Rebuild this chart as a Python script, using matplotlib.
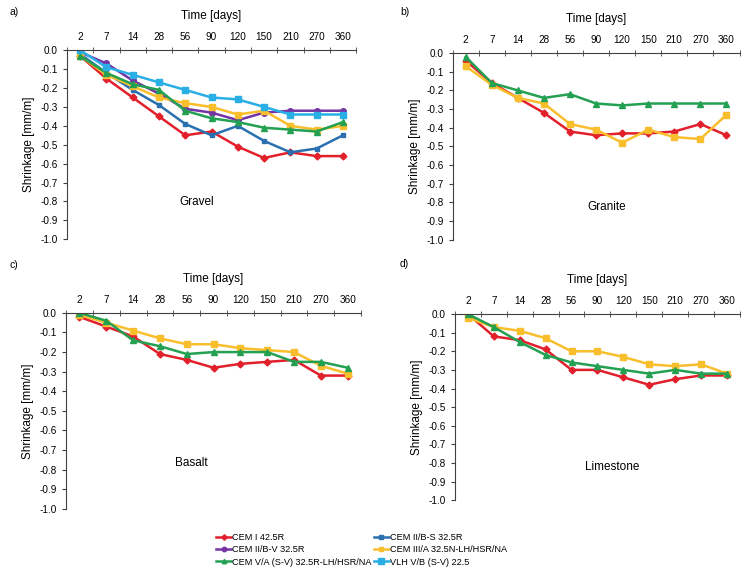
import matplotlib.pyplot as plt
import numpy as np
from matplotlib.ticker import FixedLocator

plt.rcParams['font.family'] = ['Liberation Sans', 'DejaVu Sans']

days = ['2', '7', '14', '28', '56', '90', '120', '150', '210', '270', '360']
yticks = [0.0, -0.1, -0.2, -0.3, -0.4, -0.5, -0.6, -0.7, -0.8, -0.9, -1.0]

# Gravel
gravel_cem1 = [-0.03, -0.15, -0.25, -0.35, -0.45, -0.43, -0.51, -0.57, -0.54, -0.56, -0.56]
gravel_cem2s = [-0.02, -0.12, -0.21, -0.29, -0.39, -0.45, -0.40, -0.48, -0.54, -0.52, -0.45]
gravel_cem2v = [-0.01, -0.07, -0.16, -0.23, -0.31, -0.33, -0.37, -0.33, -0.32, -0.32, -0.32]
gravel_cem3 = [-0.03, -0.13, -0.19, -0.25, -0.28, -0.30, -0.34, -0.32, -0.40, -0.42, -0.40]
gravel_cem5 = [-0.03, -0.12, -0.18, -0.21, -0.32, -0.36, -0.38, -0.41, -0.42, -0.43, -0.38]
gravel_vlh = [0.00, -0.09, -0.13, -0.17, -0.21, -0.25, -0.26, -0.30, -0.34, -0.34, -0.34]

# Granite
granite_cem1 = [-0.04, -0.16, -0.24, -0.32, -0.42, -0.44, -0.43, -0.43, -0.42, -0.38, -0.44]
granite_cem3 = [-0.07, -0.17, -0.24, -0.27, -0.38, -0.41, -0.48, -0.41, -0.45, -0.46, -0.33]
granite_cem5 = [-0.02, -0.16, -0.20, -0.24, -0.22, -0.27, -0.28, -0.27, -0.27, -0.27, -0.27]

# Basalt
basalt_cem1 = [-0.02, -0.07, -0.12, -0.21, -0.24, -0.28, -0.26, -0.25, -0.24, -0.32, -0.32]
basalt_cem3 = [-0.01, -0.05, -0.09, -0.13, -0.16, -0.16, -0.18, -0.19, -0.20, -0.27, -0.31]
basalt_cem5 = [0.00, -0.04, -0.14, -0.17, -0.21, -0.20, -0.20, -0.20, -0.25, -0.25, -0.28]

# Limestone
lime_cem1 = [0.00, -0.12, -0.14, -0.19, -0.30, -0.30, -0.34, -0.38, -0.35, -0.33, -0.33]
lime_cem3 = [-0.02, -0.07, -0.09, -0.13, -0.20, -0.20, -0.23, -0.27, -0.28, -0.27, -0.32]
lime_cem5 = [0.00, -0.07, -0.15, -0.22, -0.26, -0.28, -0.30, -0.32, -0.30, -0.32, -0.32]

names = {
    'cem1': 'CEM I 42.5R',
    'cem2s': 'CEM II/B-S 32.5R',
    'cem2v': 'CEM II/B-V 32.5R',
    'cem3': 'CEM III/A 32.5N-LH/HSR/NA',
    'cem5': 'CEM V/A (S-V) 32.5R-LH/HSR/NA',
    'vlh': 'VLH V/B (S-V) 22.5',
}
color = {
    'cem1': '#E2202B',
    'cem2s': '#2A70B0',
    'cem2v': '#7434A4',
    'cem3': '#F8BE2C',
    'cem5': '#23A052',
    'vlh': '#2AAEE6',
}
marker = {'cem1': 'D', 'cem2s': 's', 'cem2v': 'o', 'cem3': 's', 'cem5': '^', 'vlh': 's'}
msize = {'cem1': 3.5, 'cem2s': 3.5, 'cem2v': 4, 'cem3': 4, 'cem5': 4, 'vlh': 5}

panels = [
    ('a)', 'Gravel', [0.0897, 0.581, 0.387, 0.331], (0.39, 0.18),
     [('cem1', gravel_cem1), ('cem2s', gravel_cem2s), ('cem2v', gravel_cem2v),
      ('cem3', gravel_cem3), ('cem5', gravel_cem5), ('vlh', gravel_vlh)]),
    ('b)', 'Granite', [0.606, 0.580, 0.384, 0.327], (0.47, 0.16),
     [('cem1', granite_cem1), ('cem3', granite_cem3), ('cem5', granite_cem5)]),
    ('c)', 'Basalt', [0.0884, 0.109, 0.395, 0.343], (0.37, 0.22),
     [('cem1', basalt_cem1), ('cem3', basalt_cem3), ('cem5', basalt_cem5)]),
    ('d)', 'Limestone', [0.609, 0.124, 0.3815, 0.326], (0.456, 0.16),
     [('cem1', lime_cem1), ('cem3', lime_cem3), ('cem5', lime_cem5)]),
]

letter_pos = {'a)': (10, 12), 'b)': (400, 12), 'c)': (10, 265), 'd)': (400, 264)}

fig = plt.figure(figsize=(7.47, 5.71), dpi=100)
x = np.arange(len(days))
handles = {}

for letter, title, rect, tpos, series in panels:
    ax = fig.add_axes(rect)
    for key, vals in series:
        h, = ax.plot(x, vals, color=color[key], marker=marker[key], markersize=msize[key],
                     linewidth=1.8, label=names[key])
        handles[key] = h
    ax.set_xlim(-0.5, len(days) - 0.5)
    ax.set_ylim(-1.0, 0.0)
    ax.spines['right'].set_visible(False)
    ax.spines['bottom'].set_visible(False)
    for s in ['top', 'left']:
        ax.spines[s].set_color('#404040')
        ax.spines[s].set_linewidth(0.8)
    ax.xaxis.tick_top()
    ax.xaxis.set_label_position('top')
    ax.set_xticks(x)
    ax.set_xticklabels(days, fontsize=7.2)
    ax.xaxis.set_minor_locator(FixedLocator(np.arange(len(days) + 1) - 0.5))
    ax.tick_params(axis='x', which='major', length=0, pad=6)
    ax.tick_params(axis='x', which='minor', direction='inout', length=4, color='#404040')
    ax.set_yticks(yticks)
    ax.set_yticklabels(['%.1f' % v for v in yticks], fontsize=7.2)
    ax.tick_params(axis='y', length=3, color='#404040')
    ax.set_xlabel('Time [days]', fontsize=8.5, labelpad=9)
    ax.set_ylabel('Shrinkage [mm/m]', fontsize=8.5)
    ax.text(tpos[0], tpos[1], title, transform=ax.transAxes, fontsize=8.5)
    lx, ly = letter_pos[letter]
    fig.text(lx / 747, 1 - ly / 571, letter, fontsize=7.5, va='center')

order = ['cem1', 'cem2v', 'cem5', 'cem2s', 'cem3', 'vlh']
fig.legend([handles[k] for k in order], [names[k] for k in order], ncol=2,
           loc='center', bbox_to_anchor=(0.484, 0.037), fontsize=6.6, frameon=False,
           handlelength=1.6, handletextpad=0.1, columnspacing=0.3, labelspacing=0.35,
           markerscale=0.8)

fig.savefig('out.png', dpi=100)
